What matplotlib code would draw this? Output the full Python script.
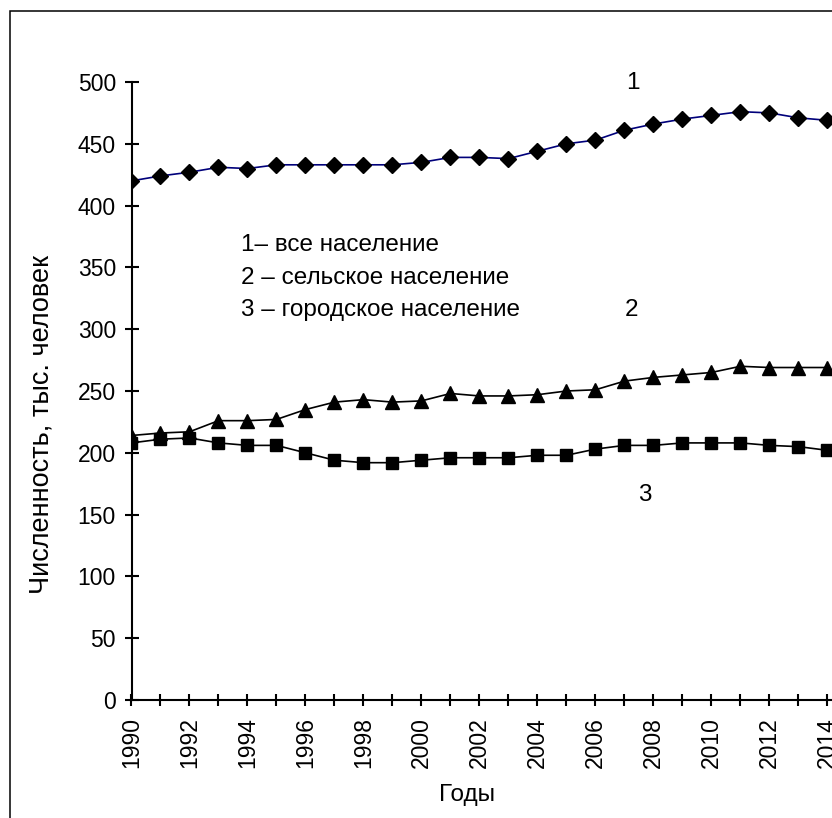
import matplotlib
matplotlib.use("Agg")
import matplotlib.pyplot as plt
from matplotlib.patches import Rectangle

plt.rcParams['font.family'] = ['Liberation Sans', 'DejaVu Sans']

years = list(range(1990, 2015))
total = [420, 424, 427, 431, 430, 433, 433, 433, 433, 433, 435, 439, 439, 438,
         444, 450, 453, 461, 466, 470, 473, 476, 475, 471, 469]
rural = [214, 216, 217, 226, 226, 227, 235, 241, 243, 241, 242, 248, 246, 246,
         247, 250, 251, 258, 261, 263, 265, 270, 269, 269, 269]
urban = [208, 211, 212, 208, 206, 206, 200, 194, 192, 192, 194, 196, 196, 196,
         198, 198, 203, 206, 206, 208, 208, 208, 206, 205, 202]
legend_lines = ["1– все население", "2 – сельское население", "3 – городское население"]
y_ticks = list(range(0, 501, 50))
x_major = list(range(1990, 2015, 2))
x_minor = list(range(1991, 2015, 2))

W, H = 832, 818
fig = plt.figure(figsize=(W / 100, H / 100), dpi=100)

# outer frame
fig.patches.append(Rectangle((10 / W, -0.05), 1.1, 1 - 11 / H + 0.05,
                             transform=fig.transFigure, fill=False,
                             edgecolor='black', linewidth=1.1, zorder=0))

left, bottom_px, top_px = 131.5, 700, 82
per_year = 29.0
ax = fig.add_axes([left / W, 1 - bottom_px / H, 25 * per_year / W, (bottom_px - top_px) / H])
ax.set_xlim(1990, 2015)
ax.set_ylim(0, 500)
ax.patch.set_alpha(0)

ax.plot(years, total, color='#00007a', lw=1.2, marker='D', ms=8,
        mfc='black', mec='black', zorder=3)
ax.plot(years, rural, color='black', lw=1.2, marker='^', ms=9.5,
        mfc='black', mec='black', zorder=3)
ax.plot(years, urban, color='black', lw=1.2, marker='s', ms=8,
        mfc='black', mec='black', zorder=3)

for s in ['top', 'right']:
    ax.spines[s].set_visible(False)
for s in ['left', 'bottom']:
    ax.spines[s].set_linewidth(1.5)

ax.set_yticks(y_ticks)
ax.set_xticks(x_major)
ax.set_xticks(x_minor, minor=True)
ax.set_xticklabels([str(y) for y in x_major], rotation=90)
ax.tick_params(axis='y', which='both', direction='inout', length=10.5, width=1.5,
               labelsize=16.5, pad=6)
ax.tick_params(axis='x', which='both', direction='inout', length=8.5, width=1.5,
               labelsize=16.5, pad=8)

lfs = 17.5
lx = 1990 + (241.5 - left) / per_year
ax.text(lx, 368, legend_lines[0], fontsize=lfs, va='center', ha='left')
ax.text(lx, 341.5, legend_lines[1], fontsize=lfs, va='center', ha='left')
ax.text(lx, 315.5, legend_lines[2], fontsize=lfs, va='center', ha='left')
ax.text(1990 + (633 - left) / per_year, 499, "1", fontsize=lfs, va='center', ha='center')
ax.text(1990 + (632 - left) / per_year, 315.5, "2", fontsize=lfs, va='center', ha='center')
ax.text(1990 + (645 - left) / per_year, 166, "3", fontsize=lfs, va='center', ha='center')

fig.text(467 / W, 1 - 795 / H, "Годы", fontsize=lfs, ha='center', va='center')
fig.text(42 / W, 1 - 424 / H, "Численность, тыс. человек", fontsize=19.5,
         ha='center', va='center', rotation=90)

fig.savefig("out.png", dpi=100)
